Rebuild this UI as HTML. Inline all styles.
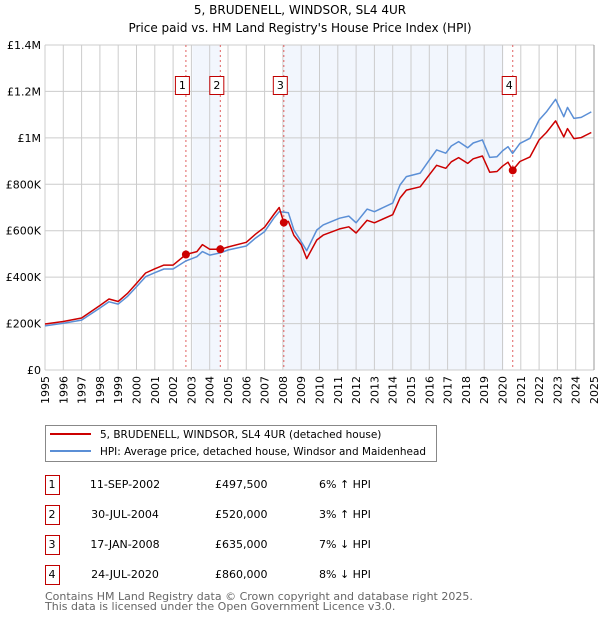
<!DOCTYPE html>
<html><head><meta charset="utf-8"><style>
body{margin:0;background:#fff;font-family:"DejaVu Sans","Liberation Sans",sans-serif}
svg text{font-family:"DejaVu Sans","Liberation Sans",sans-serif}
</style></head><body>
<svg id="chart" width="600" height="620" viewBox="0 0 600 620" xmlns="http://www.w3.org/2000/svg">
<text x="300" y="14" text-anchor="middle" font-size="12">5, BRUDENELL, WINDSOR, SL4 4UR</text>
<text x="300" y="32" text-anchor="middle" font-size="12">Price paid vs. HM Land Registry's House Price Index (HPI)</text>
<g id="plot"></g>
<g>
<rect x="45.5" y="425.5" width="391" height="36" fill="#fff" stroke="#888"/>
<line x1="50" y1="434" x2="91" y2="434" stroke="#cc0000" stroke-width="2"/>
<text x="100" y="438" font-size="10.5">5, BRUDENELL, WINDSOR, SL4 4UR (detached house)</text>
<line x1="50" y1="451" x2="91" y2="451" stroke="#5b8fd6" stroke-width="2"/>
<text x="100" y="455" font-size="10.5" textLength="326" lengthAdjust="spacingAndGlyphs">HPI: Average price, detached house, Windsor and Maidenhead</text>
</g>
<g id="table"></g>
<text x="45" y="600" font-size="11" fill="#666">Contains HM Land Registry data © Crown copyright and database right 2025.</text>
<text x="45" y="610" font-size="11" fill="#666">This data is licensed under the Open Government Licence v3.0.</text>
</svg>
<script>
const hpiYears=[1995,1996,1997,1998,1998.5,1999,1999.5,2000,2000.5,2001,2001.5,2002,2002.7,2003.3,2003.6,2004,2004.6,2005,2006,2006.5,2007,2007.5,2007.8,2008.05,2008.3,2008.6,2009,2009.3,2009.85,2010.2,2011.1,2011.6,2012,2012.6,2013,2014,2014.4,2014.75,2015.5,2016,2016.4,2016.9,2017.2,2017.6,2018.1,2018.4,2018.9,2019.3,2019.7,2020,2020.3,2020.55,2020.95,2021.5,2022,2022.4,2022.9,2023.35,2023.55,2023.9,2024.3,2024.85];
const hpiValues=[190,201,215,267,294,284,316,359,402,419,435,435,470,488,510,495,505,517,534,568,596,654,682,680,677,603,553,514,603,625,654,663,634,693,682,719,797,833,848,904,948,934,965,984,957,978,991,916,919,944,962,933,976,998,1077,1112,1166,1091,1131,1084,1088,1112];
const priceValues=[198,209,224,278,306,295,329,373,418,436,452,452,497.5,510,540,520,520,530,550,585,615,670,700,635,640,580,540,480,560,581,608,617,590,645,634,669,741,775,789,841,882,869,897,915,890,910,922,852,855,878,895,860,898,918,991,1023,1073,1004,1040,997,1001,1023];
const saleYears=[2002.70,2004.58,2008.05,2020.56];
const salePrices=[497.5,520,635,860];
const saleLabels=["1","2","3","4"];
const saleDates=["11-SEP-2002","30-JUL-2004","17-JAN-2008","24-JUL-2020"];
const salePriceText=["£497,500","£520,000","£635,000","£860,000"];
const saleHpiText=["6% ↑ HPI","3% ↑ HPI","7% ↓ HPI","8% ↓ HPI"];
const yTicks=[0,200,400,600,800,1000,1200,1400];
const yTickLabels=["£0","£200K","£400K","£600K","£800K","£1M","£1.2M","£1.4M"];
const xTicks=[1995,1996,1997,1998,1999,2000,2001,2002,2003,2004,2005,2006,2007,2008,2009,2010,2011,2012,2013,2014,2015,2016,2017,2018,2019,2020,2021,2022,2023,2024,2025];

const NS="http://www.w3.org/2000/svg";
const X0=45,X1=594,Y0=370,Y1=45;
const xs=y=>X0+(y-1995)/(2025-1995)*(X1-X0);
const ys=v=>Y0-v/1400*(Y0-Y1);
const plot=document.getElementById('plot');
function mk(tag,attrs,parent){const e=document.createElementNS(NS,tag);for(const k in attrs)e.setAttribute(k,attrs[k]);(parent||plot).appendChild(e);return e;}
mk('rect',{x:X0,y:Y1,width:X1-X0,height:Y0-Y1,fill:'#fff'});
const sh=[[saleYears[0]+0.35,saleYears[1]],[saleYears[2],saleYears[3]-0.5]];
sh.forEach(s=>{const r=mk('rect',{x:xs(s[0]),y:Y1,width:xs(s[1])-xs(s[0]),height:Y0-Y1,fill:'#f2f6fd'});

});
xTicks.forEach((t,i)=>{const l=mk('line',{x1:xs(t),x2:xs(t),y1:Y1,y2:Y0,stroke:'#ccc','stroke-width':1});


const tx=mk('text',{x:0,y:0,'font-size':11,'text-anchor':'end',transform:`translate(${xs(t)+4},${Y0+6}) rotate(-90)`});
tx.textContent=t;

});
yTicks.forEach((t,i)=>{const l=mk('line',{x1:X0,x2:X1,y1:ys(t),y2:ys(t),stroke:'#ccc','stroke-width':1});


const tx=mk('text',{x:X0-4,y:ys(t)+4,'font-size':11,'text-anchor':'end'});
tx.textContent=yTickLabels[i];

});
mk('line',{x1:X1,x2:X1,y1:Y1,y2:Y0,stroke:'#999','stroke-width':1});
saleYears.forEach((s,i)=>{const l=mk('line',{x1:xs(s),x2:xs(s),y1:Y1,y2:Y0,stroke:'#e06060','stroke-width':1,'stroke-dasharray':'2,3'});


const b=mk('rect',{x:xs(s)-10.5,y:76.5,width:14,height:18,fill:'#fff',stroke:'#c00000'});


const t=mk('text',{x:xs(s)-3.5,y:89,'font-size':11,'text-anchor':'middle'});t.textContent=saleLabels[i];

});
function path(vals,color,name){let d='';hpiYears.forEach((y,i)=>{d+=(i?'L':'M')+xs(y).toFixed(1)+','+ys(vals[i]).toFixed(1);});
const p=mk('path',{d:d,fill:'none',stroke:color,'stroke-width':1.5,'stroke-linejoin':'round'});

}
path(hpiValues,'#5b8fd6','hpi-line');
path(priceValues,'#cc0000','price-line');
saleYears.forEach((s,i)=>{const c=mk('circle',{cx:xs(s),cy:ys(salePrices[i]),r:4,fill:'#cc0000'});

});
const tb=document.getElementById('table');
const rowY=[484,514,544,574];
saleLabels.forEach((lab,i)=>{const y=rowY[i];
const b=mk('rect',{x:45.5,y:y-8.5,width:14,height:19,fill:'#fff',stroke:'#c00000'},tb);


const cells=[[lab,52,'middle'],[saleDates[i],125,'middle'],[salePriceText[i],215,'start'],[saleHpiText[i],319,'start']];
cells.forEach(c=>{const t=mk('text',{x:c[1],y:y+4,'font-size':11,'text-anchor':c[2]},tb);t.textContent=c[0];

});});
</script>
</body></html>
